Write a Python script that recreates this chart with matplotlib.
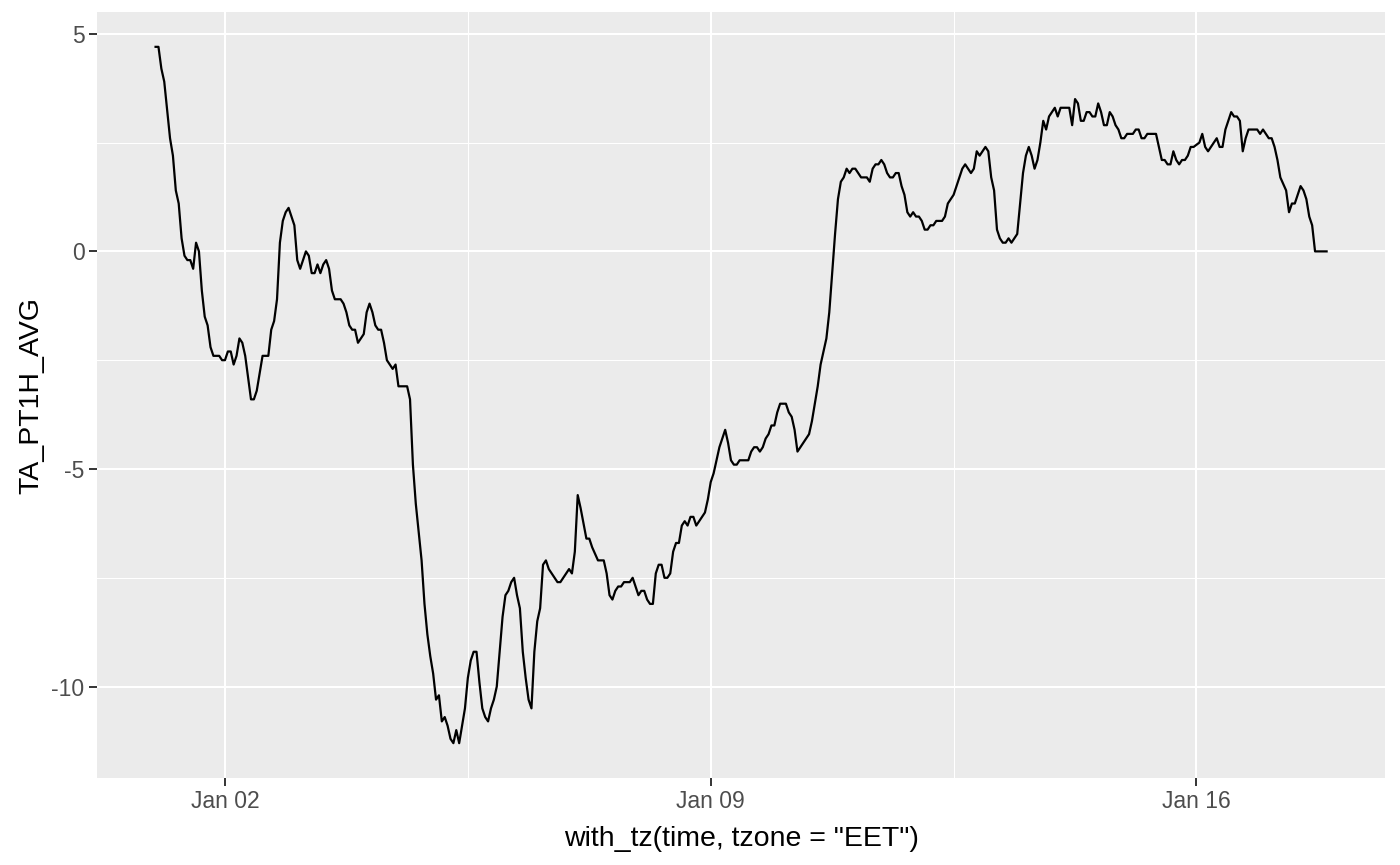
import numpy as np
import pandas as pd
import matplotlib
matplotlib.use("Agg")
import matplotlib.pyplot as plt
import matplotlib.dates as mdates
from matplotlib.ticker import FixedLocator, FuncFormatter

# ---- data (hours since Jan 01 00:00 EET, temperature) ----
start = pd.Timestamp("2020-01-01 00:00")
hours = [0, 1, 2, 3, 5, 6, 7, 8, 9, 10, 11, 12, 13, 14, 15, 16, 17, 18, 19, 20,
         22, 23, 24, 25, 26, 27, 28, 29, 30, 31, 32, 33, 34, 35, 37, 39, 40, 41,
         42, 43, 44, 45, 46, 47, 48, 49, 50, 52, 53, 54, 55, 56, 57, 58, 59, 60,
         61, 62, 64, 65, 66, 67, 68, 69, 70, 72, 73, 74, 75, 76, 77, 78, 79, 80,
         81, 82, 83, 84, 87, 88, 89, 90, 92, 93, 94, 95, 96, 97, 98, 99, 100,
         101, 102, 103, 104, 105, 106, 107, 108, 109, 110, 111, 112, 113, 114,
         115, 116, 117, 118, 119, 120, 121, 122, 123, 124, 125, 126, 127, 128,
         129, 130, 131, 132, 133, 134, 135, 136, 138, 139, 140, 141, 143, 144,
         145, 146, 147, 149, 150, 151, 153, 155, 156, 157, 158, 159, 160, 161,
         162, 164, 165, 166, 167, 168, 169, 170, 171, 172, 173, 174, 175, 176,
         177, 178, 179, 180, 181, 182, 183, 184, 185, 186, 187, 188, 190, 191,
         192, 193, 194, 195, 197, 198, 199, 200, 201, 202, 205, 206, 207, 208,
         209, 210, 211, 212, 213, 214, 215, 216, 218, 219, 220, 221, 222, 223,
         224, 226, 227, 228, 229, 230, 232, 233, 234, 235, 236, 237, 238, 239,
         240, 241, 242, 243, 244, 246, 247, 248, 249, 250, 251, 252, 253, 254,
         255, 256, 257, 258, 259, 260, 261, 262, 263, 264, 265, 266, 267, 268,
         269, 270, 272, 273, 274, 275, 276, 277, 278, 279, 280, 281, 282, 283,
         284, 285, 286, 287, 288, 289, 290, 291, 292, 293, 294, 295, 296, 297,
         298, 299, 300, 301, 302, 303, 304, 305, 306, 307, 308, 309, 310, 311,
         312, 313, 316, 317, 318, 319, 320, 321, 322, 323, 324, 325, 326, 327,
         328, 329, 330, 331, 332, 333, 334, 335, 336, 338, 339, 340, 341, 342,
         343, 346, 347, 348, 349, 350, 351, 352, 353, 354, 355, 356, 357, 358,
         359, 361, 362, 363, 364, 366, 367, 368, 369, 370, 372, 373, 374, 375,
         376, 377, 378, 381, 382, 383, 384, 385, 386, 387, 388, 389, 391, 392,
         393, 394, 395, 396, 397, 398, 399, 400, 401, 405]
temp = [4.7, 4.7, 4.2, 3.9, 2.6, 2.2, 1.4, 1.1, 0.3, -0.1, -0.2, -0.2, -0.4, 0.2,
        0.0, -0.9, -1.5, -1.7, -2.2, -2.4, -2.4, -2.5, -2.5, -2.3, -2.3, -2.6,
        -2.4, -2.0, -2.1, -2.4, -2.9, -3.4, -3.4, -3.2, -2.4, -2.4, -1.8, -1.6,
        -1.1, 0.2, 0.7, 0.9, 1.0, 0.8, 0.6, -0.2, -0.4, 0.0, -0.1, -0.5, -0.5,
        -0.3, -0.5, -0.3, -0.2, -0.4, -0.9, -1.1, -1.1, -1.2, -1.4, -1.7, -1.8,
        -1.8, -2.1, -1.9, -1.4, -1.2, -1.4, -1.7, -1.8, -1.8, -2.1, -2.5, -2.6,
        -2.7, -2.6, -3.1, -3.1, -3.4, -4.9, -5.8, -7.1, -8.1, -8.8, -9.3, -9.7,
        -10.3, -10.2, -10.8, -10.7, -10.9, -11.2, -11.3, -11.0, -11.3, -10.9,
        -10.5, -9.8, -9.4, -9.2, -9.2, -9.9, -10.5, -10.7, -10.8, -10.5, -10.3,
        -10.0, -9.2, -8.4, -7.9, -7.8, -7.6, -7.5, -7.9, -8.2, -9.2, -9.8, -10.3,
        -10.5, -9.2, -8.5, -8.2, -7.2, -7.1, -7.3, -7.5, -7.6, -7.6, -7.5, -7.3,
        -7.4, -6.9, -5.6, -5.9, -6.6, -6.6, -6.8, -7.1, -7.1, -7.4, -7.9, -8.0,
        -7.8, -7.7, -7.7, -7.6, -7.6, -7.5, -7.7, -7.9, -7.8, -7.8, -8.0, -8.1,
        -8.1, -7.4, -7.2, -7.2, -7.5, -7.5, -7.4, -6.9, -6.7, -6.7, -6.3, -6.2,
        -6.3, -6.1, -6.1, -6.3, -6.2, -6.0, -5.7, -5.3, -5.1, -4.8, -4.5, -4.1,
        -4.4, -4.8, -4.9, -4.9, -4.8, -4.8, -4.6, -4.5, -4.5, -4.6, -4.5, -4.3,
        -4.2, -4.0, -4.0, -3.7, -3.5, -3.5, -3.7, -3.8, -4.1, -4.6, -4.5, -4.4,
        -4.2, -3.9, -3.5, -3.1, -2.6, -2.0, -1.4, -0.5, 0.4, 1.2, 1.6, 1.7, 1.9,
        1.8, 1.9, 1.9, 1.8, 1.7, 1.7, 1.6, 1.9, 2.0, 2.0, 2.1, 2.0, 1.8, 1.7,
        1.7, 1.8, 1.8, 1.5, 1.3, 0.9, 0.8, 0.9, 0.8, 0.8, 0.7, 0.5, 0.5, 0.6,
        0.6, 0.7, 0.7, 0.8, 1.1, 1.2, 1.3, 1.5, 1.7, 1.9, 2.0, 1.9, 1.8, 1.9,
        2.3, 2.2, 2.3, 2.4, 2.3, 1.7, 1.4, 0.5, 0.3, 0.2, 0.2, 0.3, 0.2, 0.3,
        0.4, 1.1, 1.8, 2.2, 2.4, 2.2, 1.9, 2.1, 2.5, 3.0, 2.8, 3.1, 3.2, 3.3,
        3.1, 3.3, 3.3, 2.9, 3.5, 3.4, 3.0, 3.0, 3.2, 3.2, 3.1, 3.1, 3.4, 3.2,
        2.9, 2.9, 3.2, 3.1, 2.9, 2.8, 2.6, 2.6, 2.7, 2.7, 2.8, 2.8, 2.6, 2.6,
        2.7, 2.7, 2.4, 2.1, 2.1, 2.0, 2.0, 2.3, 2.1, 2.0, 2.1, 2.1, 2.2, 2.4,
        2.4, 2.5, 2.7, 2.4, 2.3, 2.5, 2.6, 2.4, 2.4, 2.8, 3.2, 3.1, 3.1, 3.0,
        2.3, 2.6, 2.8, 2.8, 2.7, 2.8, 2.7, 2.6, 2.6, 2.4, 2.1, 1.7, 1.4, 0.9,
        1.1, 1.1, 1.3, 1.5, 1.4, 1.2, 0.8, 0.6, 0.0, 0.0]

x_ticks = ["2020-01-02", "2020-01-09", "2020-01-16"]
x_labels = ["Jan 02", "Jan 09", "Jan 16"]
y_ticks = [-10, -5, 0, 5]

times = start + pd.to_timedelta(hours, unit="h")

plt.rcParams["font.family"] = ["Liberation Sans", "DejaVu Sans"]
plt.rcParams["axes.unicode_minus"] = False

fig = plt.figure(figsize=(14, 8.65), dpi=100)
ax = fig.add_axes([0.0693, 0.1006, 0.9201, 0.8855])

ax.plot(times, temp, color="black", lw=1.6, solid_joinstyle="round")

# ggplot-like expansion (5% each side)
t0, t1 = times.min(), times.max()
span = t1 - t0
ax.set_xlim(t0 - 0.05 * span, t1 + 0.05 * span)
ymin, ymax = min(temp), max(temp)
yr = ymax - ymin
ax.set_ylim(ymin - 0.05 * yr, ymax + 0.05 * yr)

# ticks
maj = [mdates.date2num(pd.Timestamp(d)) for d in x_ticks]
ax.xaxis.set_major_locator(FixedLocator(maj))
ax.set_xticklabels(x_labels)
step = maj[1] - maj[0]
ax.xaxis.set_minor_locator(FixedLocator([maj[0] - step / 2] + [m + step / 2 for m in maj]))
ax.yaxis.set_major_locator(FixedLocator(y_ticks))
ax.yaxis.set_minor_locator(FixedLocator([t + 2.5 for t in y_ticks]))
ax.yaxis.set_major_formatter(FuncFormatter(lambda v, p: f"{v:g}"))

# theme_gray
ax.set_facecolor("#EBEBEB")
for s in ax.spines.values():
    s.set_visible(False)
ax.grid(which="major", color="white", lw=1.5)
ax.grid(which="minor", color="white", lw=0.75)
ax.set_axisbelow(True)
ax.tick_params(which="major", length=5.5, width=1.4, color="#333333",
               labelcolor="#4D4D4D", labelsize=16.5, pad=3.5)
ax.tick_params(which="minor", length=0)

ax.set_xlabel('with_tz(time, tzone = "EET")', fontsize=20.5, color="black")
ax.set_ylabel("TA_PT1H_AVG", fontsize=20.5, color="black")
ax.xaxis.label.set_va("baseline")
ax.xaxis.set_label_coords(0.5, -0.0888)
ax.yaxis.label.set_va("baseline")
ax.yaxis.set_label_coords(-0.0458, 0.5)

fig.savefig("out.png", dpi=100)
